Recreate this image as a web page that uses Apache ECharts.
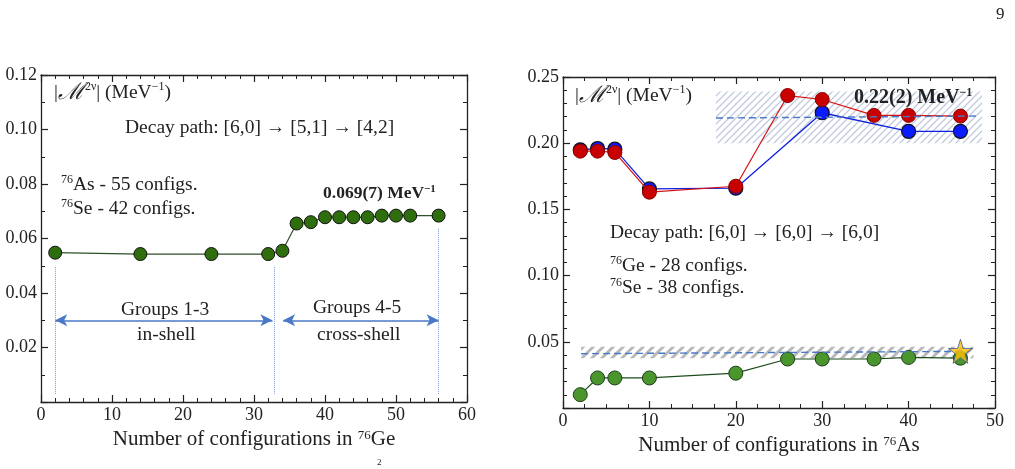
<!DOCTYPE html>
<html>
<head>
<meta charset="utf-8">
<script src="https://cdn.jsdelivr.net/npm/echarts@6/dist/echarts.min.js"></script>
<style>
  html, body { margin: 0; padding: 0; background: #fff; }
  #chart { width: 1015px; height: 469px; }
</style>
</head>
<body>
<div id="chart"></div>
<script>
// ==========================================
// DATA
// ==========================================
// left panel: decay path [6,0] -> [5,1] -> [4,2]
const leftX = [2, 14, 24, 32, 34, 36, 38, 40, 42, 44, 46, 48, 50, 52, 56];
const leftY = [0.0548, 0.0543, 0.0543, 0.0543, 0.0555, 0.0655, 0.0660, 0.0678, 0.0678, 0.0678, 0.0678, 0.0684, 0.0684, 0.0684, 0.0684];
const leftYTicks = [0.02, 0.04, 0.06, 0.08, 0.10, 0.12];
const leftGroupEdges = [2, 32.8, 56];          // dotted separators
const leftGroupTops = [0.0497, 0.0497, 0.0638];
const leftArrows = [[2, 32.6], [34.1, 56]];     // arrow spans at y = 0.03
const arrowY = 0.03;

// right panel: decay path [6,0] -> [6,0] -> [6,0]
const rightX = [2, 4, 6, 10, 20, 26, 30, 36, 40, 46];
const blueX = [2, 4, 6, 10, 20, 30, 40, 46];
const blueY = [0.195, 0.196, 0.1955, 0.1655, 0.166, 0.223, 0.209, 0.209];
const redY = [0.194, 0.194, 0.193, 0.163, 0.1675, 0.236, 0.233, 0.221, 0.221, 0.2205];
const greenY = [0.0101, 0.0227, 0.0227, 0.0227, 0.0263, 0.0370, 0.0370, 0.0370, 0.0382, 0.0376];
const starPoint = [46, 0.0428];
const rightYTicks = [0.05, 0.10, 0.15, 0.20, 0.25];
const blueBand = { x: [17.7, 48.5], y: [0.200, 0.239], mean: [0.219, 0.2205] };
const grayBand = { x: [2.1, 47.5], y: [0.0375, 0.0462], mean: [0.041, 0.0428] };

// ==========================================
// HELPERS
// ==========================================
const FONT = "'Liberation Serif', 'DejaVu Serif', serif";
const INK = '#222';

function hatch(color, width, gap) {
  const c = document.createElement('canvas');
  c.width = gap; c.height = gap;
  const ctx = c.getContext('2d');
  ctx.fillStyle = '#fff';
  ctx.fillRect(0, 0, gap, gap);
  ctx.strokeStyle = color;
  ctx.lineWidth = width;
  ctx.beginPath();
  ctx.moveTo(0, gap); ctx.lineTo(gap, 0);
  ctx.moveTo(-gap, gap); ctx.lineTo(gap, -gap);
  ctx.moveTo(0, 2 * gap); ctx.lineTo(2 * gap, 0);
  ctx.stroke();
  return c;
}

const richText = (size, bold) => ({
  n: { fontSize: size, fontFamily: FONT, color: INK, fontWeight: bold ? 'bold' : 'normal' },
  m: { fontSize: Math.round(size * 1.2), fontFamily: FONT, color: INK, fontStyle: 'italic' },
  s: {
    fontSize: Math.round(size * 0.62), fontFamily: FONT, color: INK, fontWeight: bold ? 'bold' : 'normal',
    verticalAlign: 'top', padding: [0, 0, Math.round(size * 0.45), 0]
  }
});

function fmtLabel(ticks) {
  return v => ticks.some(t => Math.abs(t - v) < 1e-9) ? v.toFixed(2) : '';
}

function xAxes(gridIndex, max, minorSplit, labelName, gap) {
  const common = {
    type: 'value', gridIndex, min: 0, max, interval: 10,
    axisLine: { show: true, onZero: false, lineStyle: { color: INK, width: 1.3 } },
    axisTick: { show: true, inside: true, length: 7, lineStyle: { color: INK, width: 1.2 } },
    minorTick: { show: true, splitNumber: minorSplit, length: 4, lineStyle: { color: INK, width: 1 } },
    splitLine: { show: false }
  };
  return [
    Object.assign({}, common, {
      position: 'bottom',
      axisLabel: { show: true, color: INK, fontSize: 18, fontFamily: FONT, margin: 4 },
      name: labelName, nameLocation: 'middle', nameGap: gap,
      nameTextStyle: { rich: richText(21), color: INK, fontSize: 21, fontFamily: FONT }
    }),
    Object.assign({}, common, { position: 'top', axisLabel: { show: false } })
  ];
}

function yAxes(gridIndex, max, interval, ticks, minorSplit) {
  const common = {
    type: 'value', gridIndex, min: 0, max, interval,
    axisLine: { show: true, onZero: false, lineStyle: { color: INK, width: 1.3 } },
    axisTick: { show: true, inside: true, length: 7, lineStyle: { color: INK, width: 1.2 } },
    minorTick: { show: true, splitNumber: minorSplit, length: 4, lineStyle: { color: INK, width: 1 } },
    splitLine: { show: false }
  };
  return [
    Object.assign({}, common, {
      position: 'left',
      axisLabel: { show: true, color: INK, fontSize: 18, fontFamily: FONT, margin: 4, formatter: fmtLabel(ticks) }
    }),
    Object.assign({}, common, { position: 'right', axisLabel: { show: false } })
  ];
}

// ==========================================
// CHART
// ==========================================
const chart = echarts.init(document.getElementById('chart'), null, { renderer: 'canvas' });

const xs = xAxes(0, 60, 5, '{n|Number of configurations in }{s|76}{n|Ge}', 26)
  .concat(xAxes(1, 50, 4, '{n|Number of configurations in }{s|76}{n|As}', 24));
const ys = yAxes(0, 0.12, 0.02, leftYTicks, 2).concat(yAxes(1, 0.25, 0.05, rightYTicks, 5));

const arrowStyle = { color: '#4a78c8', width: 1.6, type: 'solid' };
const dotStyle = { color: '#7d9ddc', width: 1, type: 'dotted' };

const leftMarks = leftGroupEdges.map((x, i) => [
  { coord: [x, 0.003], symbol: 'none', lineStyle: dotStyle },
  { coord: [x, leftGroupTops[i]], symbol: 'none' }
]).concat(leftArrows.map(a => [
  { coord: [a[0], arrowY], symbol: 'arrow', symbolSize: [9, 12], lineStyle: arrowStyle },
  { coord: [a[1], arrowY], symbol: 'arrow', symbolSize: [9, 12] }
]));

const band = (b, pattern) => [
  { coord: [b.x[0], b.y[0]], itemStyle: { color: { image: pattern, repeat: 'repeat' } } },
  { coord: [b.x[1], b.y[1]] }
];
const meanLine = b => [
  { coord: [b.x[0], b.mean[0]], symbol: 'none' },
  { coord: [b.x[1] - 0.5, b.mean[1]], symbol: 'none' }
];

const text = (x, y, str, size, bold) => ({
  type: 'text', left: x, top: y, z: 100,
  style: { text: str, rich: richText(size, bold), fill: INK, font: size + 'px ' + FONT }
});

const option = {
  animation: false,
  backgroundColor: '#fff',
  grid: [
    { left: 41, top: 75, width: 426, height: 327 },
    { left: 563, top: 77, width: 432, height: 331 }
  ],
  xAxis: xs,
  yAxis: ys,
  series: [
    {
      name: 'left', type: 'line', xAxisIndex: 0, yAxisIndex: 0,
      data: leftX.map((x, i) => [x, leftY[i]]),
      symbol: 'circle', symbolSize: 13,
      lineStyle: { color: '#2f4f2a', width: 1.2 },
      itemStyle: { color: '#2f6e0c', borderColor: '#111', borderWidth: 1 },
      markLine: { silent: true, label: { show: false }, data: leftMarks }
    },
    {
      name: 'blueBand', type: 'line', xAxisIndex: 2, yAxisIndex: 2, data: [], z: 1,
      markArea: { silent: true, data: [band(blueBand, hatch('#c2cadf', 1.3, 7))] },
      markLine: {
        silent: true, label: { show: false }, symbol: 'none',
        lineStyle: { color: '#4a78c8', type: [7, 4], width: 1.4 },
        data: [meanLine(blueBand)]
      }
    },
    {
      name: 'grayBand', type: 'line', xAxisIndex: 2, yAxisIndex: 2, data: [], z: 1,
      markArea: { silent: true, data: [band(grayBand, hatch('#b9b9b9', 3, 10))] },
      markLine: {
        silent: true, label: { show: false }, symbol: 'none',
        lineStyle: { color: '#4a78c8', type: [7, 4], width: 1.4 },
        data: [meanLine(grayBand)]
      }
    },
    {
      name: 'blue', type: 'line', xAxisIndex: 2, yAxisIndex: 2, z: 3,
      data: blueX.map((x, i) => [x, blueY[i]]),
      symbol: 'circle', symbolSize: 14,
      lineStyle: { color: '#1020e0', width: 1.3 },
      itemStyle: { color: '#0a1cff', borderColor: '#111', borderWidth: 1.2 }
    },
    {
      name: 'red', type: 'line', xAxisIndex: 2, yAxisIndex: 2, z: 4,
      data: rightX.map((x, i) => [x, redY[i]]),
      symbol: 'circle', symbolSize: 14,
      lineStyle: { color: '#d81010', width: 1.2 },
      itemStyle: { color: '#c80000', borderColor: '#8a0000', borderWidth: 1 }
    },
    {
      name: 'green', type: 'line', xAxisIndex: 2, yAxisIndex: 2, z: 4,
      data: rightX.map((x, i) => [x, greenY[i]]),
      symbol: 'circle', symbolSize: 14,
      lineStyle: { color: '#1d4d1d', width: 1.2 },
      itemStyle: { color: '#4a962c', borderColor: '#1d3d1d', borderWidth: 1 }
    },
    {
      name: 'star', type: 'scatter', xAxisIndex: 2, yAxisIndex: 2, z: 5,
      data: [starPoint],
      symbol: 'path://M50,0 L61.2,34.5 L97.6,34.5 L68.2,55.9 L79.4,90.5 L50,69.1 L20.6,90.5 L31.8,55.9 L2.4,34.5 L38.8,34.5 Z',
      symbolSize: 24,
      itemStyle: { color: '#ffbf00', borderColor: '#3a5aa8', borderWidth: 1 }
    }
  ],
  graphic: [
    text(996, 6, '{n|9}', 17),
    text(377, 458, '{s|2}', 15),
    // left panel
    text(54, 81, '{n||}{m|ℳ}{s|2ν}{n|| (MeV}{s|−1}{n|)}', 19.5),
    text(125, 118, '{n|Decay path: [6,0] → [5,1] → [4,2]}', 19.5),
    text(61, 174, '{s|76}{n|As - 55 configs.}', 19.5),
    text(61, 198, '{s|76}{n|Se - 42 configs.}', 19.5),
    text(323, 184, '{n|0.069(7) MeV}{s|−1}', 17.5, true),
    text(121, 300, '{n|Groups 1-3}', 19.5),
    text(137, 325, '{n|in-shell}', 19.5),
    text(313, 298, '{n|Groups 4-5}', 19.5),
    text(317, 325, '{n|cross-shell}', 19.5),
    // right panel
    text(575, 84, '{n||}{m|ℳ}{s|2ν}{n|| (MeV}{s|−1}{n|)}', 19.5),
    text(854, 87, '{n|0.22(2) MeV}{s|−1}', 20, true),
    text(610, 223, '{n|Decay path: [6,0] → [6,0] → [6,0]}', 19.5),
    text(610, 255, '{s|76}{n|Ge - 28 configs.}', 19.5),
    text(610, 277, '{s|76}{n|Se - 38 configs.}', 19.5)
  ]
};

chart.setOption(option);
</script>
</body>
</html>
